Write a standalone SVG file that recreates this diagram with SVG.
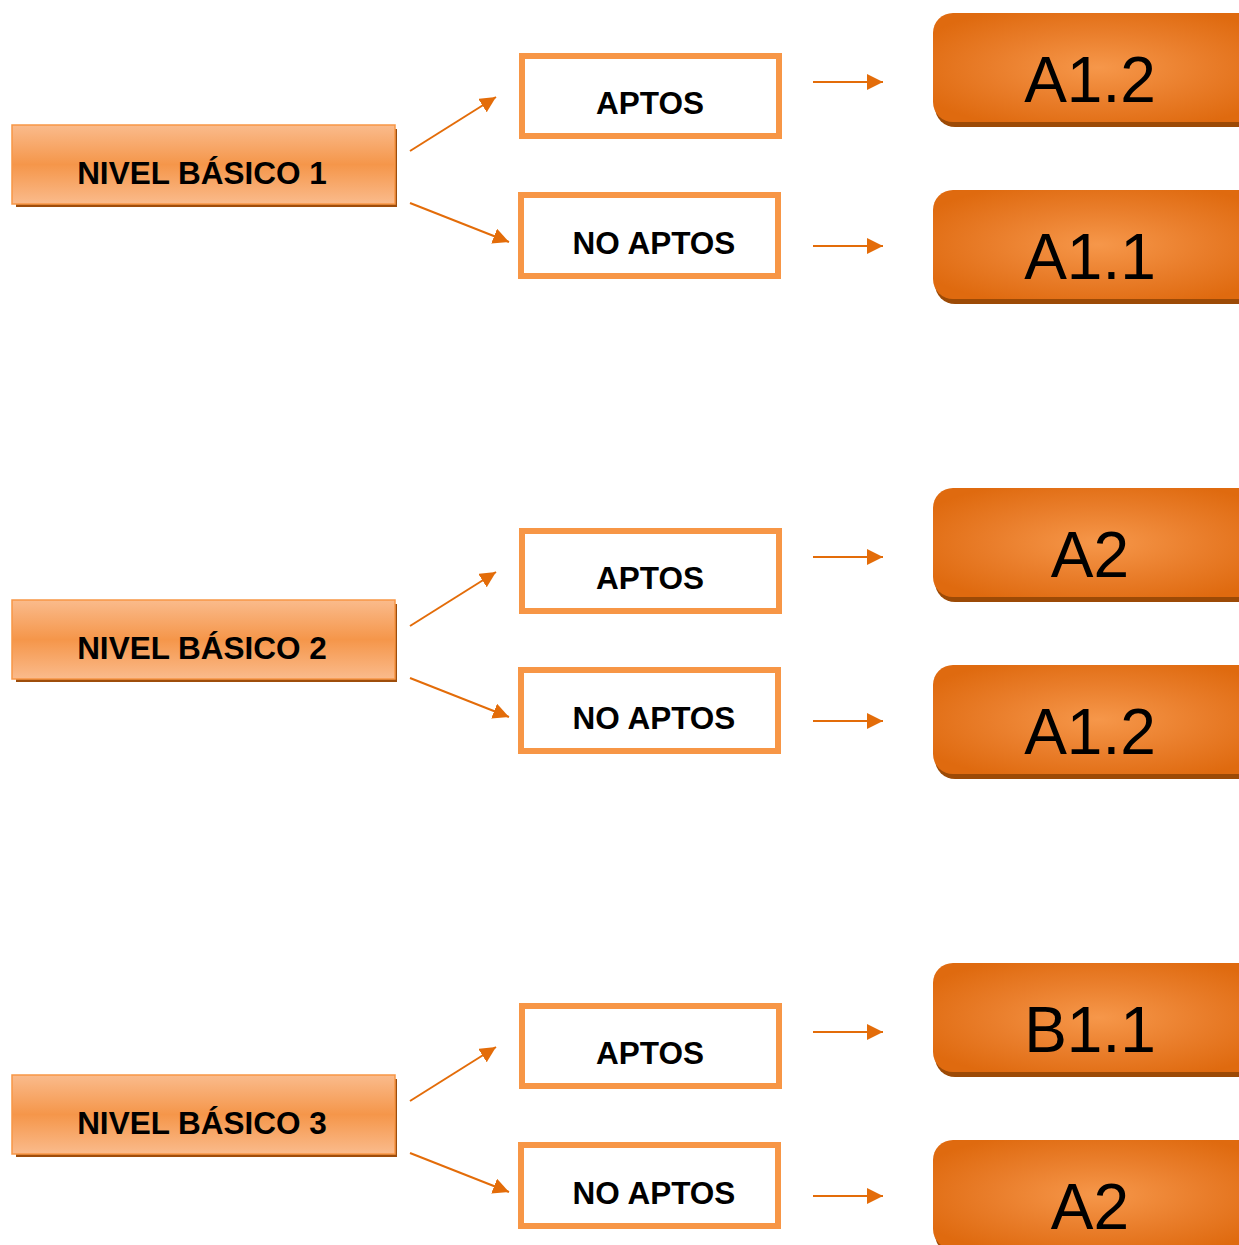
<svg xmlns="http://www.w3.org/2000/svg" width="1239" height="1245" viewBox="0 0 1239 1245">
<defs>
<linearGradient id="gNivel" x1="0" y1="0" x2="0" y2="1">
<stop offset="0" stop-color="#fabb8c"/>
<stop offset="0.5" stop-color="#f5964a"/>
<stop offset="1" stop-color="#fabb8c"/>
</linearGradient>
<radialGradient id="gBig" cx="0.5" cy="0.5" r="0.6">
<stop offset="0" stop-color="#f6974a"/>
<stop offset="0.55" stop-color="#e97d2a"/>
<stop offset="1" stop-color="#df6a0f"/>
</radialGradient>
<marker id="ah" viewBox="0 0 16 16" refX="16" refY="8" markerWidth="16" markerHeight="16" markerUnits="userSpaceOnUse" orient="auto">
<path d="M0,0 L16,8 L0,16 z" fill="#e36c09"/>
</marker>
</defs>
<style>
.nshadow{fill:#9e4d0b}
.nbox{fill:url(#gNivel);stroke:#f79646;stroke-width:1.5}
.ntxt{font-family:"Liberation Sans",Arial,sans-serif;font-weight:bold;font-size:31.5px;fill:#000;text-anchor:middle}
.abox{fill:#fff;stroke:#f79646;stroke-width:6}
.atxt{font-family:"Liberation Sans",Arial,sans-serif;font-weight:bold;font-size:31.5px;fill:#000;text-anchor:middle}
.bshadow{fill:#9c4a06}
.bbox{fill:url(#gBig)}
.btxt{font-family:"Liberation Sans",Arial,sans-serif;font-size:64px;fill:#000;text-anchor:middle}
.conn{stroke:#e36c09;stroke-width:2;fill:none;marker-end:url(#ah)}
</style>
<rect width="1239" height="1245" fill="#fff"/>

<g id="connectors">
<line class="conn" x1="410" y1="151" x2="496" y2="97"/>
<line class="conn" x1="410" y1="203" x2="509" y2="242"/>
<line class="conn" x1="813" y1="82" x2="883" y2="82"/>
<line class="conn" x1="813" y1="246" x2="883" y2="246"/>
<line class="conn" x1="410" y1="626" x2="496" y2="572"/>
<line class="conn" x1="410" y1="678" x2="509" y2="717"/>
<line class="conn" x1="813" y1="557" x2="883" y2="557"/>
<line class="conn" x1="813" y1="721" x2="883" y2="721"/>
<line class="conn" x1="410" y1="1101" x2="496" y2="1047"/>
<line class="conn" x1="410" y1="1153" x2="509" y2="1192"/>
<line class="conn" x1="813" y1="1032" x2="883" y2="1032"/>
<line class="conn" x1="813" y1="1196" x2="883" y2="1196"/>
</g>

<!-- Group 1 -->
<g id="nivel1">
<rect class="nshadow" x="16" y="129" width="381" height="78"/>
<rect class="nbox" x="12" y="125" width="383" height="79"/>
<text class="ntxt" x="202" y="184">NIVEL BÁSICO 1</text>
</g>
<g id="aptos1">
<rect class="abox" x="522" y="56" width="257" height="80"/>
<text class="atxt" x="650" y="114">APTOS</text>
</g>
<g id="noaptos1">
<rect class="abox" x="521" y="195" width="257" height="81"/>
<text class="atxt" x="654" y="254">NO APTOS</text>
</g>
<g id="res1a">
<rect class="bshadow" x="935" y="18" width="330" height="109" rx="20"/>
<rect class="bbox" x="933" y="13" width="330" height="109" rx="20"/>
<text class="btxt" x="1090" y="102">A1.2</text>
</g>
<g id="res1b">
<rect class="bshadow" x="935" y="195" width="330" height="109" rx="20"/>
<rect class="bbox" x="933" y="190" width="330" height="109" rx="20"/>
<text class="btxt" x="1090" y="279">A1.1</text>
</g>

<!-- Group 2 -->
<g id="nivel2">
<rect class="nshadow" x="16" y="604" width="381" height="78"/>
<rect class="nbox" x="12" y="600" width="383" height="79"/>
<text class="ntxt" x="202" y="659">NIVEL BÁSICO 2</text>
</g>
<g id="aptos2">
<rect class="abox" x="522" y="531" width="257" height="80"/>
<text class="atxt" x="650" y="589">APTOS</text>
</g>
<g id="noaptos2">
<rect class="abox" x="521" y="670" width="257" height="81"/>
<text class="atxt" x="654" y="729">NO APTOS</text>
</g>
<g id="res2a">
<rect class="bshadow" x="935" y="493" width="330" height="109" rx="20"/>
<rect class="bbox" x="933" y="488" width="330" height="109" rx="20"/>
<text class="btxt" x="1090" y="577">A2</text>
</g>
<g id="res2b">
<rect class="bshadow" x="935" y="670" width="330" height="109" rx="20"/>
<rect class="bbox" x="933" y="665" width="330" height="109" rx="20"/>
<text class="btxt" x="1090" y="754">A1.2</text>
</g>

<!-- Group 3 -->
<g id="nivel3">
<rect class="nshadow" x="16" y="1079" width="381" height="78"/>
<rect class="nbox" x="12" y="1075" width="383" height="79"/>
<text class="ntxt" x="202" y="1134">NIVEL BÁSICO 3</text>
</g>
<g id="aptos3">
<rect class="abox" x="522" y="1006" width="257" height="80"/>
<text class="atxt" x="650" y="1064">APTOS</text>
</g>
<g id="noaptos3">
<rect class="abox" x="521" y="1145" width="257" height="81"/>
<text class="atxt" x="654" y="1204">NO APTOS</text>
</g>
<g id="res3a">
<rect class="bshadow" x="935" y="968" width="330" height="109" rx="20"/>
<rect class="bbox" x="933" y="963" width="330" height="109" rx="20"/>
<text class="btxt" x="1090" y="1052">B1.1</text>
</g>
<g id="res3b">
<rect class="bshadow" x="935" y="1145" width="330" height="109" rx="20"/>
<rect class="bbox" x="933" y="1140" width="330" height="109" rx="20"/>
<text class="btxt" x="1090" y="1229">A2</text>
</g>
</svg>
